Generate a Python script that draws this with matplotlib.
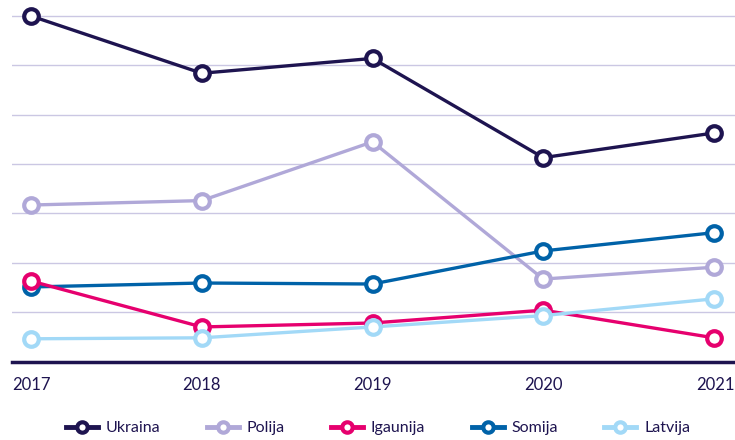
import matplotlib
matplotlib.use("Agg")
import matplotlib.pyplot as plt
from matplotlib.lines import Line2D
from matplotlib.transforms import ScaledTranslation

years = [2017, 2018, 2019, 2020, 2021]
series_names = ["Ukraina", "Polija", "Igaunija", "Somija", "Latvija"]
ukraina = [7.00, 5.84, 6.14, 4.13, 4.63]
polija = [3.17, 3.26, 4.45, 1.67, 1.91]
igaunija = [1.63, 0.70, 0.78, 1.04, 0.48]
somija = [1.51, 1.59, 1.57, 2.24, 2.61]
latvija = [0.46, 0.48, 0.70, 0.93, 1.27]
colors = ["#1e1450", "#b0a8d8", "#e6006e", "#0062a8", "#a2d9f7"]

data = [ukraina, polija, igaunija, somija, latvija]
# draw order: bottom to top as in reference
order = [0, 1, 3, 2, 4]

text_color = "#1e1450"
plt.rcParams['font.family'] = ['Lato', 'DejaVu Sans']

fig = plt.figure(figsize=(7.35, 4.4), dpi=100)
ax = fig.add_axes([12/735, 1 - 361.5/440, 1 - 12/735, (361.5 - 1)/440])

x0 = years[0]
ppy = (714 - 31) / 4.0
ax.set_xlim(x0 - 19/ppy, years[-1] + 21/ppy)
ax.set_ylim(0, 360.5/49.36)

for v in range(1, 8):
    ax.axhline(v, color="#cbc7e3", lw=1.0, zorder=1)

for z, i in enumerate(order):
    ax.plot(years, data[i], color=colors[i], lw=2.4, marker="o", ms=10.5,
            mfc="white", mec=colors[i], mew=3.0, zorder=3 + z, clip_on=False,
            solid_joinstyle="round")

for s in ["top", "right", "left"]:
    ax.spines[s].set_visible(False)
ax.spines["bottom"].set_color(text_color)
ax.spines["bottom"].set_linewidth(2.5)
ax.set_yticks([])
ax.set_xticks(years)
ax.set_xticklabels([str(y) for y in years])
ax.tick_params(axis="x", length=0, pad=11, labelsize=12, labelcolor=text_color)
labels = ax.get_xticklabels()
labels[0].set_horizontalalignment("left")
labels[0].set_transform(labels[0].get_transform() + ScaledTranslation(-19/100, 0, fig.dpi_scale_trans))
labels[-1].set_horizontalalignment("right")
labels[-1].set_transform(labels[-1].get_transform() + ScaledTranslation(21/100, 0, fig.dpi_scale_trans))

handles = [Line2D([0], [0], color=colors[i], lw=3.5, marker="o", ms=7.5,
                  mfc="white", mec=colors[i], mew=3.0) for i in range(5)]
leg = fig.legend(handles, series_names, loc="center", bbox_to_anchor=(378/735, 1 - 428/440),
                 ncol=5, frameon=False, fontsize=11.5, handlelength=2.0,
                 handletextpad=0.5, columnspacing=2.9)
for t in leg.get_texts():
    t.set_color(text_color)

fig.savefig("out.png", dpi=100)
